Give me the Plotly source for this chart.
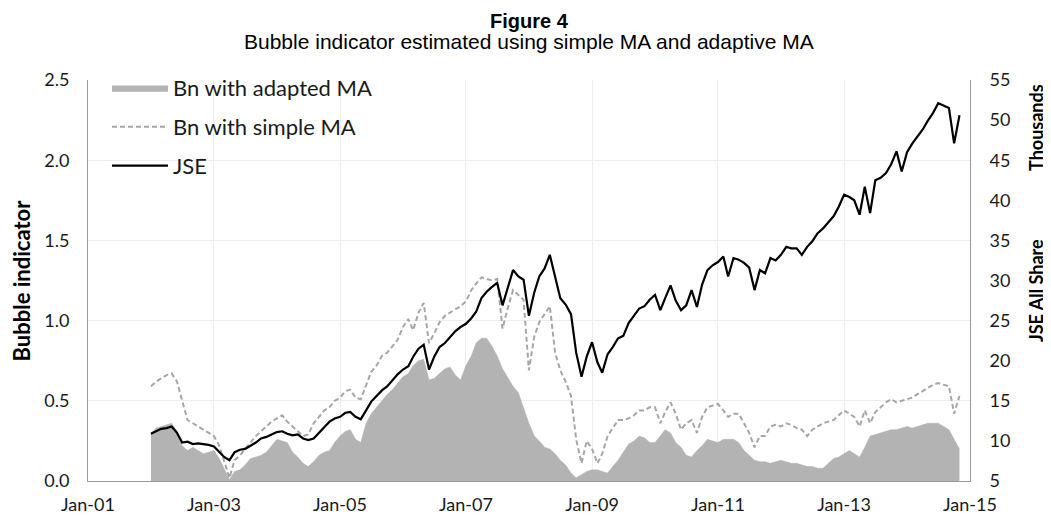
import pandas as pd
import plotly.graph_objects as go

# Monthly dates, Jan 2002 .. Nov 2014
dates = pd.date_range("2002-01-01", "2014-11-01", freq="MS")

jse_thousands = [
    10.9, 11.2, 11.5, 11.6, 11.8, 11.0, 9.8, 9.9, 9.6, 9.7, 9.6, 9.5,
    9.3, 8.6, 8.0, 7.6, 8.6, 8.9, 9.0, 9.4, 9.8, 10.3, 10.5, 10.8,
    11.1, 11.2, 10.9, 10.7, 10.8, 10.3, 10.1, 10.3, 11.0, 11.8, 12.4, 12.8,
    13.0, 13.5, 13.6, 13.0, 12.7, 13.8, 14.9, 15.6, 16.3, 16.8, 17.6, 18.3,
    18.9, 19.3, 20.5, 21.5, 22.0, 18.9, 20.5, 21.7, 22.2, 23.0, 23.7, 24.2,
    24.6, 25.3, 26.1, 27.8, 28.6, 29.2, 29.7, 26.9, 29.0, 31.3, 30.5, 30.1,
    25.6, 28.5, 30.5, 31.5, 33.2, 30.5, 27.8, 27.0, 25.8, 21.0, 18.0, 20.5,
    22.3, 19.8, 18.5, 20.8, 21.7, 22.8, 23.1, 24.7, 25.6, 26.5, 26.8, 27.6,
    28.2, 26.3, 27.8, 29.4, 27.5, 26.3, 26.9, 28.8, 26.7, 29.5, 31.3, 31.9,
    32.3, 33.0, 30.5, 32.8, 32.6, 32.2, 31.6, 28.8, 31.3, 30.9, 32.8, 32.5,
    33.2, 34.2, 34.0, 34.0, 33.2, 34.2, 34.9, 35.9, 36.5, 37.2, 38.0, 39.2,
    40.7, 40.4, 40.0, 38.2, 41.7, 38.4, 42.5, 42.8, 43.4, 44.5, 46.1, 43.6,
    46.0, 47.1, 47.9, 48.8, 49.9, 50.9, 52.1, 51.8, 51.5, 47.1, 50.6,
]

bn_simple_ma = [
    0.59, 0.62, 0.64, 0.66, 0.67, 0.62, 0.50, 0.38, 0.36, 0.34, 0.32, 0.30,
    0.28, 0.22, 0.12, 0.02, 0.13, 0.16, 0.20, 0.24, 0.28, 0.31, 0.34, 0.37,
    0.39, 0.41, 0.37, 0.34, 0.31, 0.28, 0.29, 0.36, 0.40, 0.44, 0.46, 0.50,
    0.52, 0.56, 0.57, 0.52, 0.51, 0.60, 0.68, 0.72, 0.78, 0.80, 0.84, 0.88,
    0.96, 1.01, 0.94, 1.05, 1.11, 0.86, 0.92, 0.99, 1.03, 1.05, 1.07, 1.09,
    1.12, 1.19, 1.23, 1.27, 1.26, 1.25, 1.26, 0.95, 1.08, 1.19, 1.16, 1.13,
    0.69, 0.90, 0.99, 1.04, 1.09, 0.80, 0.69, 0.62, 0.53, 0.26, 0.11, 0.25,
    0.20, 0.11, 0.17, 0.28, 0.33, 0.38, 0.38, 0.39, 0.41, 0.44, 0.44, 0.46,
    0.46, 0.36, 0.43, 0.49, 0.42, 0.32, 0.36, 0.38, 0.30, 0.40, 0.46, 0.47,
    0.48, 0.44, 0.40, 0.42, 0.42, 0.36, 0.30, 0.21, 0.28, 0.28, 0.34, 0.35,
    0.34, 0.36, 0.35, 0.33, 0.32, 0.28, 0.32, 0.34, 0.36, 0.37, 0.38, 0.41,
    0.44, 0.42, 0.40, 0.34, 0.44, 0.36, 0.43, 0.46, 0.49, 0.51, 0.49, 0.50,
    0.51, 0.52, 0.54, 0.56, 0.58, 0.60, 0.61, 0.60, 0.59, 0.42, 0.53,
]

bn_adapted_ma = [
    0.30, 0.33, 0.34, 0.35, 0.36, 0.31, 0.22, 0.19, 0.21, 0.19, 0.17, 0.18,
    0.19, 0.14, 0.08, 0.01, 0.06, 0.07, 0.10, 0.14, 0.15, 0.16, 0.18, 0.22,
    0.26, 0.25, 0.24, 0.18, 0.15, 0.11, 0.09, 0.12, 0.16, 0.18, 0.19, 0.24,
    0.28, 0.31, 0.32, 0.26, 0.24, 0.36, 0.42, 0.46, 0.50, 0.54, 0.57, 0.61,
    0.65, 0.67, 0.72, 0.75, 0.76, 0.63, 0.64, 0.67, 0.70, 0.71, 0.66, 0.63,
    0.72, 0.78, 0.86, 0.89, 0.89, 0.84, 0.78, 0.70, 0.64, 0.59, 0.55, 0.45,
    0.36, 0.28, 0.25, 0.21, 0.20, 0.17, 0.13, 0.10, 0.05, 0.02, 0.04, 0.06,
    0.07, 0.07, 0.06, 0.05, 0.09, 0.13, 0.18, 0.23, 0.25, 0.28, 0.27, 0.24,
    0.24, 0.28, 0.32, 0.30, 0.24, 0.21, 0.16, 0.15, 0.19, 0.22, 0.26, 0.25,
    0.24, 0.26, 0.26, 0.26, 0.24, 0.19, 0.16, 0.13, 0.12, 0.12, 0.11, 0.12,
    0.13, 0.12, 0.11, 0.11, 0.10, 0.09, 0.09, 0.08, 0.08, 0.11, 0.14, 0.15,
    0.17, 0.19, 0.17, 0.15, 0.21, 0.28, 0.29, 0.30, 0.31, 0.32, 0.32, 0.33,
    0.34, 0.33, 0.34, 0.35, 0.36, 0.36, 0.36, 0.34, 0.32, 0.26, 0.20,
]

title_text = "Figure 4"
subtitle_text = "Bubble indicator estimated using simple MA and adaptive MA"
left_title = "Bubble indicator"
right_title = "JSE All Share"
right_units = "Thousands"

FONT = "Lato, 'Open Sans', sans-serif"
TXT = "#1a1a1a"
AXIS = "#9a9a9a"

fig = go.Figure()

fig.add_trace(go.Scatter(
    x=dates, y=bn_adapted_ma, name="Bn with adapted MA",
    mode="lines", fill="tozeroy", fillcolor="#b3b3b3",
    line=dict(color="#b3b3b3", width=0.5), legend="legend",
))
fig.add_trace(go.Scatter(
    x=dates, y=bn_simple_ma, name="Bn with simple MA",
    mode="lines", line=dict(color="#a6a6a6", width=2, dash="5px,3px"),
    legend="legend2",
))
fig.add_trace(go.Scatter(
    x=dates, y=jse_thousands, name="JSE", yaxis="y2",
    mode="lines", line=dict(color="#000000", width=2.2),
    legend="legend3",
))

legend_common = dict(
    xanchor="left", yanchor="middle", bgcolor="rgba(0,0,0,0)",
    font=dict(family=FONT, size=22, color=TXT),
    itemwidth=56,
)

# the page body adds an 8px margin; the figure is sized to fill the rest
fig.update_layout(
    width=1043, height=510,
    margin=dict(l=80, r=81, t=72, b=37, autoexpand=False),
    plot_bgcolor="white", paper_bgcolor="white",
    font=dict(family=FONT, color=TXT),
    showlegend=True,
    legend=dict(x=0.0215, y=0.980, **legend_common),
    legend2=dict(x=0.0215, y=0.883, **legend_common),
    legend3=dict(x=0.0215, y=0.786, **legend_common),
    xaxis=dict(
        type="date", automargin=False,
        range=["2001-01-01", "2015-01-01"],
        tick0="2001-01-01", dtick="M24", tickformat="%b-%y",
        showgrid=True, gridcolor="#ededed", gridwidth=1,
        showline=True, linecolor=AXIS, linewidth=1,
        ticks="", ticklabelstandoff=7,
        tickfont=dict(family=FONT, size=18, color=TXT),
        zeroline=False,
    ),
    yaxis=dict(
        range=[0, 2.5], dtick=0.5, tickformat=".1f", automargin=False,
        showgrid=True, gridcolor="#ededed", gridwidth=1,
        showline=True, linecolor=AXIS, linewidth=1,
        ticks="", ticklabelstandoff=14,
        tickfont=dict(family=FONT, size=18, color=TXT),
        zeroline=False,
    ),
    yaxis2=dict(
        overlaying="y", side="right", automargin=False,
        range=[5, 55], dtick=5,
        showgrid=False,
        showline=True, linecolor=AXIS, linewidth=1,
        ticks="", ticklabelstandoff=15,
        tickfont=dict(family=FONT, size=18, color=TXT),
        zeroline=False,
    ),
    annotations=[
        dict(text="<b>" + title_text + "</b>", xref="paper", yref="paper",
             x=0.5, y=1, xanchor="center", yanchor="middle",
             yshift=59, showarrow=False,
             font=dict(family="Liberation Sans, Arial", size=20, color="#000")),
        dict(text=subtitle_text, xref="paper", yref="paper",
             x=0.5, y=1, xanchor="center", yanchor="middle",
             yshift=39, showarrow=False,
             font=dict(family="Liberation Sans, Arial", size=21, color="#000")),
        dict(text="<b>" + left_title + "</b>", xref="paper", yref="paper",
             x=0, y=0.5, xanchor="center", yanchor="middle", xshift=-67,
             textangle=-90, showarrow=False,
             font=dict(family=FONT, size=22, color="#000")),
        dict(text="<b>" + right_title + "</b>", xref="paper", yref="paper",
             x=1, y=1, xanchor="center", yanchor="middle",
             xshift=66, yshift=-211, textangle=-90, showarrow=False,
             font=dict(family=FONT, size=18, color="#000")),
        dict(text="<b>" + right_units + "</b>", xref="paper", yref="paper",
             x=1, y=1, xanchor="center", yanchor="middle",
             xshift=66, yshift=-48, textangle=-90, showarrow=False,
             font=dict(family=FONT, size=18, color="#000")),
    ],
)

fig.write_html("out.html")
